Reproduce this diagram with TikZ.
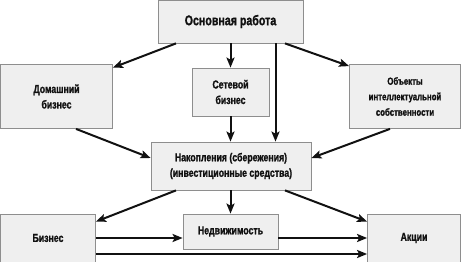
\documentclass[tikz,border=0pt]{standalone}
\usepackage{fontspec}
\setmainfont{Liberation Sans}[FakeStretch=0.78]
\newfontfamily\condbold{Liberation Sans Bold}[FakeStretch=0.76, FakeBold=1.3]
\usetikzlibrary{arrows.meta}
\definecolor{boxfill}{HTML}{EFEFEF}
\definecolor{boxline}{HTML}{8E8E8E}
\definecolor{ink}{HTML}{111111}

\begin{document}
\begin{tikzpicture}[x=1pt, y=-1pt,
          b/.style={draw=boxline, fill=boxfill, line width=0.8pt, inner sep=2pt,
                    align=center, text=ink, font=\condbold\fontsize{11.5}{15.5}\selectfont},
          a/.style={-{Stealth[length=10pt,width=8pt,inset=2pt]}, line width=2pt, color=ink}]
        \useasboundingbox (0,0) rectangle (461,262);
        \node[b, minimum width=145pt, minimum height=43pt,
              font=\condbold\fontsize{14}{16}\selectfont] (osn) at (230.5,21.5) {Основная работа};
        \node[b, minimum width=112pt, minimum height=64pt] (dom) at (56.5,96.5) {Домашний\\бизнес};
        \node[b, minimum width=77pt, minimum height=48pt] (set) at (230.5,92) {Сетевой\\бизнес};
        \node[b, minimum width=111pt, minimum height=64pt,
              font=\condbold\fontsize{10.3}{15.5}\selectfont] (obj) at (405,96.5)
          {Объекты\\интеллектуальной\\собственности};
        \node[b, minimum width=160pt, minimum height=48pt] (nak) at (231,166)
          {Накопления (сбережения)\\(инвестиционные средства)};
        \node[b, minimum width=95pt, minimum height=48pt] (biz) at (48,238) {Бизнес};
        \node[b, minimum width=95pt, minimum height=35pt] (ned) at (230.5,231.5) {Недвижимость};
        \node[b, minimum width=93pt, minimum height=48pt] (akc) at (414,238) {Акции};
        % from the main job
        \draw[a] ([xshift=-54.5pt]osn.south) -- ([yshift=-3.5pt]dom.north east);
        \draw[a] (osn.south) -- (set.north);
        \draw[a] ([xshift=45pt]osn.south) -- ([xshift=45pt]osn.south |- nak.north);
        \draw[a] ([xshift=54.5pt]osn.south) -- ([yshift=-2pt]obj.north west);
        % into the savings
        \draw[a] ([xshift=19.5pt]dom.south) -- ([yshift=8pt]nak.west);
        \draw[a] (set.south) -- (set.south |- nak.north);
        \draw[a] ([xshift=-15pt]obj.south) -- ([yshift=8pt]nak.east);
        % out of the savings
        \draw[a] ([xshift=-55pt]nak.south) -- ([yshift=-8pt]biz.north east);
        \draw[a] (nak.south -| ned.north) -- (ned.north);
        \draw[a] ([xshift=54pt]nak.south) -- ([yshift=-8pt]akc.north west);
        % bottom row
        \draw[a] (biz.east) -- (biz.east -| ned.west);
        \draw[a] (ned.east |- akc.west) -- (akc.west);
        \draw[a] ([yshift=-16pt]biz.east) -- ([yshift=-16pt]akc.west);
      \end{tikzpicture}
\end{document}
